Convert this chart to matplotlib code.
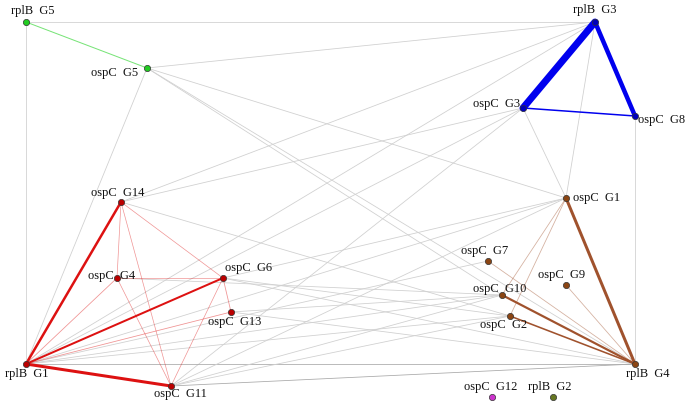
import matplotlib.pyplot as plt

# node layout (pixel-like coordinates, y grows downward)
names = ["rplB  G5", "ospC  G5", "rplB  G3", "ospC  G3", "ospC  G8", "ospC  G1",
         "ospC  G14", "ospC  G4", "ospC  G6", "ospC  G13", "ospC  G7", "ospC  G9",
         "ospC  G10", "ospC  G2", "rplB  G1", "ospC  G11", "rplB  G4", "ospC  G12", "rplB  G2"]
node_x = [26, 147, 595, 523, 635, 566, 121, 117, 223, 231, 488, 566, 502, 510, 26, 171, 635, 492, 553]
node_y = [22, 68, 22, 108, 116, 198, 202, 278, 278, 312, 261, 285, 295, 316, 364, 386, 364, 397, 397]
group = ["green", "green", "blue", "blue", "blue", "brown",
         "red", "red", "red", "red", "brown", "brown",
         "brown", "brown", "red", "red", "brown", "magenta", "olive"]

# edges: source, target, weight
edge_src = ["rplB  G5", "rplB  G3", "rplB  G3", "ospC  G3",
            "rplB  G1", "rplB  G1", "rplB  G1", "rplB  G1", "rplB  G1",
            "ospC  G14", "ospC  G14", "ospC  G14", "ospC  G4", "ospC  G4", "ospC  G6", "ospC  G6",
            "ospC  G1", "ospC  G10", "ospC  G2", "ospC  G7", "ospC  G9", "ospC  G1", "ospC  G1",
            # between groups
            "rplB  G5", "rplB  G5", "ospC  G5", "ospC  G5", "ospC  G5", "ospC  G5", "ospC  G5",
            "ospC  G14", "ospC  G14", "ospC  G14", "rplB  G3", "ospC  G3", "ospC  G8",
            "ospC  G3", "rplB  G3", "ospC  G11", "rplB  G1", "ospC  G11", "ospC  G11",
            "ospC  G11", "ospC  G11", "rplB  G1", "rplB  G1", "rplB  G1", "rplB  G1",
            "ospC  G6", "ospC  G6", "ospC  G13", "ospC  G13", "ospC  G4", "ospC  G6"]
edge_dst = ["ospC  G5", "ospC  G3", "ospC  G8", "ospC  G8",
            "ospC  G14", "ospC  G11", "ospC  G6", "ospC  G4", "ospC  G13",
            "ospC  G4", "ospC  G6", "ospC  G11", "ospC  G6", "ospC  G11", "ospC  G13", "ospC  G11",
            "rplB  G4", "rplB  G4", "rplB  G4", "rplB  G4", "rplB  G4", "ospC  G10", "ospC  G2",
            "rplB  G3", "rplB  G1", "rplB  G3", "ospC  G1", "ospC  G10", "rplB  G4", "rplB  G1",
            "rplB  G3", "ospC  G3", "ospC  G2", "ospC  G1", "ospC  G1", "rplB  G4",
            "rplB  G1", "rplB  G1", "ospC  G3", "rplB  G4", "rplB  G4", "ospC  G2",
            "ospC  G10", "ospC  G1", "ospC  G1", "ospC  G10", "ospC  G2", "ospC  G7",
            "rplB  G4", "ospC  G2", "ospC  G10", "rplB  G4", "ospC  G10", "ospC  G1"]
edge_w = [1, 7, 4.5, 1.5,
          2.5, 3, 2, 0.8, 0.8,
          0.7, 0.7, 0.7, 0.7, 0.7, 0.8, 0.7,
          3, 2.2, 1.6, 0.8, 0.8, 0.8, 0.8,
          1, 1, 1, 1, 1, 1, 1,
          1, 1, 1, 1, 1, 1,
          1, 1, 1, 1.6, 1.4, 1,
          1, 1, 1, 1, 1, 1,
          1, 1, 1, 1, 1, 1]

node_colors = {"green": "#22cc22", "blue": "#0000bb", "red": "#bb0000", "brown": "#8b4513",
               "magenta": "#cc33cc", "olive": "#667722"}
edge_colors = {"green": "#55dd55", "blue": "#0000ee", "red": "#dd1111", "brown": "#a0522d"}

# label placement offsets (x, y, ha, va)
label_pos = {
    "rplB  G5": (7, -5, "center", "bottom"), "ospC  G5": (-9, 5, "right", "center"),
    "rplB  G3": (0, -6, "center", "bottom"), "ospC  G3": (-3, -4, "right", "center"),
    "ospC  G8": (3, 4, "left", "center"), "ospC  G1": (7, 0, "left", "center"),
    "ospC  G14": (-3, -3, "center", "bottom"), "ospC  G4": (-5, 4, "center", "bottom"),
    "ospC  G6": (26, -4, "center", "bottom"), "ospC  G13": (4, 4, "center", "top"),
    "ospC  G7": (-3, -4, "center", "bottom"), "ospC  G9": (-4, -4, "center", "bottom"),
    "ospC  G10": (-2, 0, "center", "bottom"), "ospC  G2": (-6, 3, "center", "top"),
    "rplB  G1": (1, 4, "center", "top"), "ospC  G11": (9, 2, "center", "top"),
    "rplB  G4": (13, 4, "center", "top"), "ospC  G12": (-1, -4, "center", "bottom"),
    "rplB  G2": (-3, -4, "center", "bottom"),
}

pos = {n: (x, y) for n, x, y in zip(names, node_x, node_y)}
grp = dict(zip(names, group))

fig = plt.figure(figsize=(6.87, 4.07), dpi=100)
ax = fig.add_axes([0, 0, 1, 1])
ax.set_xlim(0, 687)
ax.set_ylim(407, 0)
ax.axis("off")

px = 0.72  # points per pixel at 100 dpi
# gray edges first, then coloured ones on top
for s, d, w in zip(edge_src, edge_dst, edge_w):
    if grp[s] != grp[d]:
        c = "#aaaaaa" if w > 1.2 else "#d0d0d0"
        ax.plot([pos[s][0], pos[d][0]], [pos[s][1], pos[d][1]], color=c,
                lw=0.8 * px, zorder=1, solid_capstyle="round")
for s, d, w in zip(edge_src, edge_dst, edge_w):
    if grp[s] == grp[d]:
        a = 1.0 if w >= 1.5 else 0.45
        if grp[s] == "green":
            a = 0.8
        ax.plot([pos[s][0], pos[d][0]], [pos[s][1], pos[d][1]], color=edge_colors[grp[s]],
                lw=w * px, alpha=a, zorder=2, solid_capstyle="round")

for n in names:
    x, y = pos[n]
    ax.plot(x, y, "o", ms=4.5, mfc=node_colors[grp[n]], mec="#333333", mew=0.5, zorder=3)
    dx, dy, ha, va = label_pos[n]
    ax.text(x + dx, y + dy, n, ha=ha, va=va, fontsize=9,
            family="Liberation Serif", color="#111111", zorder=4)

fig.savefig("out.png", dpi=100)
